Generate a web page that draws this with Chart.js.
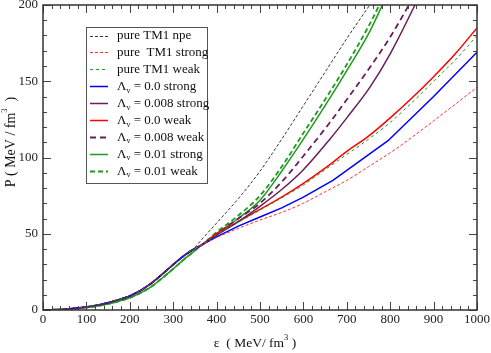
<!DOCTYPE html>
<html>
<head>
<meta charset="utf-8">
<script src="https://cdn.jsdelivr.net/npm/chart.js@4/dist/chart.umd.min.js"></script>
<style>
html,body{margin:0;padding:0;background:#fff;}
canvas{display:block;}
</style>
</head>
<body>
<canvas id="c" width="491" height="353"></canvas>
<script>
// ---- data (energy density ε in MeV/fm^3, pressure P in MeV/fm^3) ----
const lowEps    = [0, 50, 100, 125, 150, 175, 200, 225, 250, 275, 300, 325, 345];
const lowUpperP = [0, 0.5, 2, 3.2, 4.8, 6.8, 9.2, 12.8, 17.6, 23.5, 29.8, 35.6, 39.5];
const lowLowerP = [0, 0.4, 1.6, 2.6, 4, 5.8, 8, 11.2, 15.4, 21, 27, 33.2, 37.8];

const npeEps = [365, 400, 450, 500, 550, 600, 650, 700, 760];
const npeP   = [46, 57, 73, 91, 112, 134, 156, 178, 203];

const tm1StrongEps = [365, 400, 450, 500, 550, 600, 650, 700, 750, 815, 900, 1000];
const tm1StrongP   = [42.5, 47.5, 53.5, 59, 64, 70, 77.5, 85, 94, 106, 124, 146];

const tm1WeakEps = [365, 400, 450, 500, 550, 600, 650, 700, 750, 800, 850, 900, 950, 1000];
const tm1WeakP   = [42.5, 49.5, 57.5, 65.5, 73.5, 82, 92, 102, 112, 123, 136, 150, 164, 180];

const l0StrongEps = [365, 400, 450, 500, 550, 600, 668, 795, 900, 1000];
const l0StrongP   = [42.5, 48, 55, 61, 67, 74, 85, 111, 140, 169];

const l008StrongEps = [365, 400, 450, 500, 550, 600, 661, 700, 753, 800, 857, 880];
const l008StrongP   = [42.5, 49, 58, 68, 79, 92, 112, 126, 146, 168, 200, 214];

const l0WeakEps = [365, 400, 450, 500, 550, 600, 650, 700, 750, 800, 850, 900, 950, 1000];
const l0WeakP   = [42.5, 50, 58, 66, 74, 83, 93, 104, 114, 126, 139, 153, 168, 185];

const l008WeakEps = [365, 400, 450, 500, 550, 600, 661, 700, 753, 800, 843, 870];
const l008WeakP   = [42.5, 50, 60, 70, 84, 101, 123, 138, 159, 179, 200, 214];

const l01StrongEps = [365, 400, 450, 500, 550, 600, 650, 700, 750, 782, 810];
const l01StrongP   = [42.5, 50, 60, 72, 91, 112, 134, 157, 181, 200, 218];

const l01WeakEps = [365, 400, 450, 500, 550, 600, 650, 700, 750, 775, 800];
const l01WeakP   = [42.5, 51, 62, 75, 94, 116, 138, 161, 186, 200, 215];

const xTicks = [0, 100, 200, 300, 400, 500, 600, 700, 800, 900, 1000];
const yTicks = [0, 50, 100, 150, 200];

function build(lowP, eps, p) {
  const a = lowEps.map((x, i) => ({x: x, y: lowP[i]}));
  return a.concat(eps.map((x, i) => ({x: x, y: p[i]})));
}

const PURPLE = '#6b1d5c';
const GREEN = '#1f9a1f';

const datasets = [
  {label: 'pure TM1 npe', data: build(lowUpperP, npeEps, npeP), borderColor: '#333', borderWidth: 1, borderDash: [3, 2]},
  {label: 'pure  TM1 strong', data: build(lowUpperP, tm1StrongEps, tm1StrongP), borderColor: '#ff3030', borderWidth: 1, borderDash: [3, 2]},
  {label: 'pure TM1 weak', data: build(lowUpperP, tm1WeakEps, tm1WeakP), borderColor: GREEN, borderWidth: 1, borderDash: [3, 3]},
  {label: 'Λ_v = 0.0 strong', data: build(lowUpperP, l0StrongEps, l0StrongP), borderColor: '#0000ff', borderWidth: 1.5, tension: 0, cubicInterpolationMode: 'default'},
  {label: 'Λ_v = 0.008 strong', data: build(lowUpperP, l008StrongEps, l008StrongP), borderColor: PURPLE, borderWidth: 1.5},
  {label: 'Λ_v = 0.0 weak', data: build(lowUpperP, l0WeakEps, l0WeakP), borderColor: '#ff0000', borderWidth: 1.5},
  {label: 'Λ_v = 0.008 weak', data: build(lowUpperP, l008WeakEps, l008WeakP), borderColor: PURPLE, borderWidth: 1.8, borderDash: [6, 4]},
  {label: 'Λ_v = 0.01 strong', data: build(lowLowerP, l01StrongEps, l01StrongP), borderColor: GREEN, borderWidth: 1.5},
  {label: 'Λ_v = 0.01 weak', data: build(lowLowerP, l01WeakEps, l01WeakP), borderColor: GREEN, borderWidth: 1.8, borderDash: [5, 3]}
];
datasets.forEach(d => {
  d.fill = false;
  d.pointRadius = 0;
  if (d.cubicInterpolationMode === undefined) d.cubicInterpolationMode = 'monotone';
});

const SERIF = '"Liberation Serif", "DejaVu Serif", serif';

function drawSuperText(ctx, parts, x, y, align) {
  let total = 0;
  parts.forEach(p => { ctx.font = p.size + 'px ' + SERIF; total += ctx.measureText(p.t).width; });
  let cx = align === 'center' ? x - total / 2 : x;
  parts.forEach(p => {
    ctx.font = p.size + 'px ' + SERIF;
    ctx.fillText(p.t, cx, y + (p.dy || 0));
    cx += ctx.measureText(p.t).width;
  });
}

const decor = {
  id: 'decor',
  afterDatasetsDraw(chart) {
    const ctx = chart.ctx;
    const a = chart.chartArea;
    const xs = chart.scales.x, ys = chart.scales.y;
    ctx.save();
    ctx.strokeStyle = '#444';
    ctx.lineWidth = 1;
    ctx.beginPath();
    for (let v = 0; v <= 1000; v += 20) {
      const px = Math.round(xs.getPixelForValue(v)) + 0.5;
      const len = v % 100 === 0 ? 8 : 4;
      ctx.moveTo(px, a.bottom); ctx.lineTo(px, a.bottom - len);
      ctx.moveTo(px, a.top); ctx.lineTo(px, a.top + len);
    }
    for (let v = 0; v <= 200; v += 10) {
      const py = Math.round(ys.getPixelForValue(v)) + 0.5;
      const len = v % 50 === 0 ? 8 : 4;
      ctx.moveTo(a.left, py); ctx.lineTo(a.left + len, py);
      ctx.moveTo(a.right, py); ctx.lineTo(a.right - len, py);
    }
    ctx.stroke();
    ctx.strokeStyle = '#333';
    ctx.lineWidth = 1.5;
    ctx.strokeRect(a.left, a.top, a.right - a.left, a.bottom - a.top);

    // legend
    const lx = 86, ly = 27, lw = 121, lh = 156;
    ctx.fillStyle = '#fff';
    ctx.fillRect(lx, ly, lw, lh);
    ctx.strokeStyle = '#555';
    ctx.lineWidth = 1;
    ctx.strokeRect(lx + 0.5, ly + 0.5, lw, lh);
    chart.data.datasets.forEach((d, i) => {
      const cy = 35.5 + i * 16.9;
      ctx.save();
      ctx.strokeStyle = d.borderColor;
      ctx.lineWidth = d.borderWidth;
      ctx.setLineDash(d.borderDash || []);
      ctx.beginPath();
      ctx.moveTo(90, Math.round(cy) + 0.5);
      ctx.lineTo(108, Math.round(cy) + 0.5);
      ctx.stroke();
      ctx.restore();
      ctx.fillStyle = '#111';
      ctx.textBaseline = 'middle';
      ctx.textAlign = 'left';
      const lab = d.label;
      if (lab.indexOf('_v') >= 0) {
        const bits = lab.split('_v');
        drawSuperText(ctx, [
          {t: bits[0], size: 13},
          {t: 'v', size: 8, dy: 4},
          {t: bits[1], size: 13}
        ], 117, cy + 0.5, 'left');
      } else {
        drawSuperText(ctx, [{t: lab, size: 13}], 117, cy + 0.5, 'left');
      }
    });

    // axis titles
    ctx.fillStyle = '#111';
    ctx.textBaseline = 'middle';
    ctx.textAlign = 'left';
    drawSuperText(ctx, [
      {t: 'ε  ( MeV/ fm', size: 13.5},
      {t: '3', size: 8.5, dy: -5},
      {t: ' )', size: 13.5}
    ], 255, 343, 'center');
    ctx.save();
    ctx.translate(11, 142);
    ctx.rotate(-Math.PI / 2);
    drawSuperText(ctx, [
      {t: 'P ( MeV / fm', size: 14},
      {t: '3', size: 8.5, dy: -6},
      {t: '  )', size: 14}
    ], 0, 0, 'center');
    ctx.restore();
    ctx.restore();
  }
};

new Chart(document.getElementById('c'), {
  type: 'line',
  data: {datasets: datasets},
  options: {
    responsive: false,
    animation: false,
    devicePixelRatio: 1,
    layout: {padding: {left: 0, top: 5, right: 14, bottom: 0}},
    plugins: {legend: {display: false}, tooltip: {enabled: false}},
    scales: {
      x: {
        type: 'linear', min: 0, max: 1000,
        afterBuildTicks: s => { s.ticks = xTicks.map(v => ({value: v})); },
        ticks: {font: {family: SERIF, size: 13}, color: '#222', padding: 2, maxRotation: 0, autoSkip: false,
                callback: v => String(v)},
        grid: {display: false, drawTicks: false},
        border: {display: false},
        afterFit: s => { s.height = 43; s.paddingLeft = 0; s.paddingRight = 0; }
      },
      y: {
        type: 'linear', min: 0, max: 200,
        afterBuildTicks: s => { s.ticks = yTicks.map(v => ({value: v})); },
        ticks: {font: {family: SERIF, size: 13}, color: '#222', padding: 5, autoSkip: false,
                callback: v => String(v)},
        grid: {display: false, drawTicks: false},
        border: {display: false},
        afterFit: s => { s.width = 43; s.paddingTop = 0; s.paddingBottom = 0; }
      }
    }
  },
  plugins: [decor]
});
</script>
</body>
</html>
